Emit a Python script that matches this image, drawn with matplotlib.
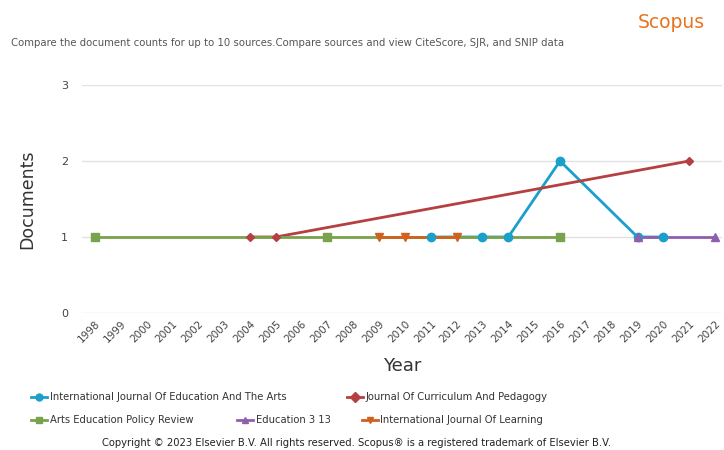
import matplotlib
matplotlib.use("Agg")
import matplotlib.pyplot as plt
from matplotlib.lines import Line2D

# document counts per source (only years that have documents)
ijea_years = [2011, 2013, 2014, 2016, 2019, 2020]
ijea_docs = [1, 1, 1, 2, 1, 1]
jcp_years = [2004, 2005, 2021]
jcp_docs = [1, 1, 2]
aepr_years = [1998, 2007, 2016]
aepr_docs = [1, 1, 1]
e313_years = [2019, 2022]
e313_docs = [1, 1]
ijl_years = [2009, 2010, 2012]
ijl_docs = [1, 1, 1]

year_ticks = list(range(1998, 2023))
doc_ticks = [0, 1, 2, 3]

series = [
    ("International Journal Of Education And The Arts", ijea_years, ijea_docs, "#1b9fcb", "o", 6),
    ("Journal Of Curriculum And Pedagogy", jcp_years, jcp_docs, "#b53f41", "D", 4),
    ("Arts Education Policy Review", aepr_years, aepr_docs, "#78a24c", "s", 6),
    ("Education 3 13", e313_years, e313_docs, "#8f5fab", "^", 6),
    ("International Journal Of Learning", ijl_years, ijl_docs, "#d2601e", "v", 6),
]

fig = plt.figure(figsize=(7.24, 4.5), dpi=100)
ax = fig.add_axes([82 / 724, 1 - 313 / 450, 640 / 724, 228 / 450])

handles = []
for name, xs, ys, col, mk, ms in series:
    h, = ax.plot(xs, ys, color=col, lw=2, clip_on=False, label=name, zorder=2)
    # markers on top of all lines, like the original
    ax.plot(xs, ys, ls="none", color=col, marker=mk, markersize=ms, clip_on=False, zorder=3)
    h.set_marker(mk)
    h.set_markersize(0)
    handles.append(h)

ax.set_xlim(1997.5, 2022.27)
ax.set_ylim(0, 3)
ax.set_xticks(year_ticks)
ax.set_xticklabels([str(y) for y in year_ticks], rotation=45, ha="right", rotation_mode="anchor",
                   fontsize=7.5, color="#444444")
ax.set_yticks(doc_ticks)
ax.set_yticklabels([str(d) for d in doc_ticks], fontsize=8, color="#444444")
ax.tick_params(length=0, pad=10)
ax.tick_params(axis="x", pad=4)
ax.grid(axis="y", color="#e2e2e2", lw=1)
ax.set_axisbelow(True)
for s in ax.spines.values():
    s.set_visible(False)
ax.set_xlabel("Year", fontsize=13, color="#333333", labelpad=9)
ax.set_ylabel("Documents", fontsize=12.5, color="#333333", labelpad=18)

# legend entries placed like the original (x of handle start, y of row centre)
legend_pos = [(31, 397), (347, 397), (31, 420), (237, 420), (362, 420)]
for h, (px, py) in zip(handles, legend_pos):
    lh = Line2D([], [], color=h.get_color(), marker=h.get_marker(), markersize=5, lw=2)
    fig.legend(handles=[lh], labels=[h.get_label()], loc="center left",
               bbox_to_anchor=(px / 724, 1 - py / 450), frameon=False, fontsize=7.2,
               handlelength=1.6, handletextpad=0.25, borderpad=0, borderaxespad=0,
               labelcolor="#333333")

fig.text(11 / 724, 1 - 43 / 450, "Compare the document counts for up to 10 sources.Compare sources and view CiteScore, SJR, and SNIP data",
         fontsize=7.25, color="#555555", va="center")
fig.text(705 / 724, 1 - 22 / 450, "Scopus", fontsize=13.5, color="#e8731f", ha="right", va="center")
fig.text(357 / 724, 1 - 443 / 450, "Copyright \u00a9 2023 Elsevier B.V. All rights reserved. Scopus\u00ae is a registered trademark of Elsevier B.V.",
         fontsize=7.2, color="#222222", ha="center", va="center")

fig.savefig("out.png", dpi=100)
